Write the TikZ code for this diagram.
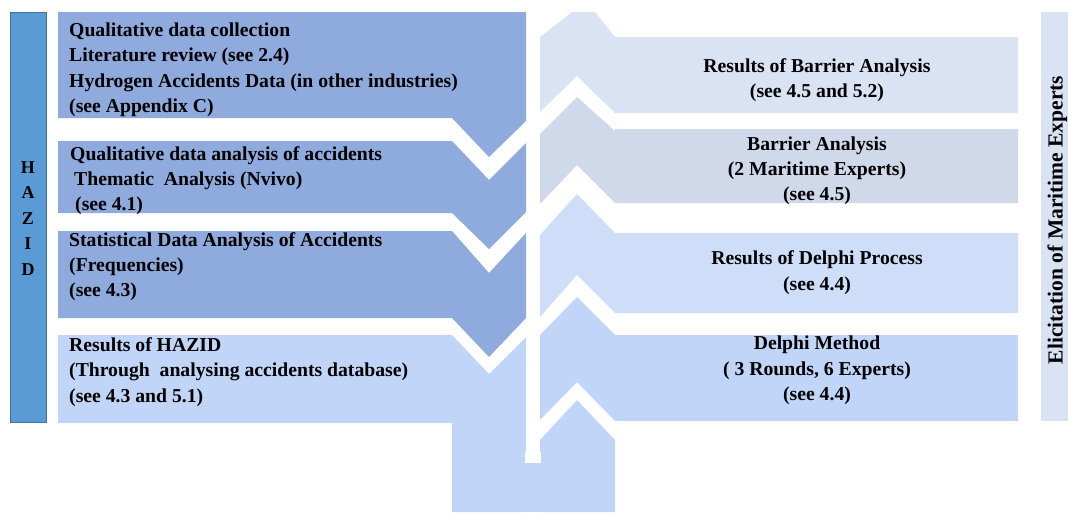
\documentclass[tikz,border=0pt]{standalone}
\usepackage{fontspec}
\setmainfont{Liberation Serif}
\definecolor{lmid}{HTML}{8FAADC}
\definecolor{llight}{HTML}{C1D5F8}
\definecolor{ra}{HTML}{DAE3F3}
\definecolor{rb}{HTML}{CFD9EA}
\definecolor{rc}{HTML}{CEDEF9}
\definecolor{rd}{HTML}{C1D5F8}
\definecolor{hz}{HTML}{5B9BD5}
\definecolor{hzline}{HTML}{41719C}
\begin{document}
\begin{tikzpicture}[x=1pt,y=-1pt,
  txt/.style={font=\bfseries\fontsize{19.7}{25}\selectfont, inner sep=0pt, text=black},
  ctxt/.style={txt, anchor=base},
  ltxt/.style={txt, anchor=base west}]
\useasboundingbox (0,0) rectangle (1068,512);
% left column shapes
\fill[lmid] (58,12) -- (526,12) -- (526,121) -- (489,157) -- (452,118) -- (58,118) -- cycle;
\fill[lmid] (58,141) -- (452,141) -- (489,180) -- (526,143) -- (526,212) -- (489,249) -- (452,213) -- (58,213) -- cycle;
\fill[lmid] (58,231) -- (452,231) -- (489,273) -- (526,233) -- (526,318) -- (489,357) -- (452,318) -- (58,318) -- cycle;
\fill[llight] (58,335) -- (452,335) -- (489,374) -- (526,337) -- (526,512) -- (452,512) -- (452,423) -- (58,423) -- cycle;
% right column shapes
\fill[ra] (540,37) -- (572,12) -- (595,12) -- (615,37) -- (1018,37) -- (1018,113) -- (615,113) -- (577,76) -- (540,112) -- cycle;
\fill[rb] (540,134) -- (577,97) -- (615,131) -- (615,129) -- (1018,129) -- (1018,203) -- (615,203) -- (577,165) -- (540,204) -- cycle;
\fill[rc] (540,235) -- (577,194) -- (615,233) -- (1018,233) -- (1018,313) -- (615,313) -- (577,275) -- (540,317) -- cycle;
\fill[rd] (540,335) -- (577,297) -- (615,335) -- (1018,335) -- (1018,421) -- (615,421) -- (577,382) -- (540,420) -- cycle;
\fill[llight] (540,440) -- (577,400) -- (615,440) -- (615,512) -- (540,512) -- cycle;
\fill[llight] (525,463) rectangle (541,512);
\fill[white] (525,452) rectangle (541,463);
% side bars
\filldraw[fill=hz, draw=hzline, line width=0.8pt] (10,12) rectangle (46,422);
\fill[ra] (1041,12) rectangle (1068,421);
% HAZID
\node[txt, font=\bfseries\fontsize{18}{25.6}\selectfont, align=center, anchor=center] (hazid) at (28,218.5) {H\\A\\Z\\I\\D};
\node[txt, font=\bfseries\fontsize{21.5}{25}\selectfont, rotate=90, anchor=base] (elic) at (1062.5,220) {Elicitation of Maritime Experts};
% left texts
\node[ltxt] (a1) at (69,36) {Qualitative data collection};
\node[ltxt] (a2) at (69,61) {Literature review (see 2.4)};
\node[ltxt] (a3) at (69,87) {Hydrogen Accidents Data (in other industries)};
\node[ltxt] (a4) at (69,112) {(see Appendix C)};
\node[ltxt] (b1) at (70,160) {Qualitative data analysis of accidents};
\node[ltxt] (b2) at (74,185) {Thematic~ Analysis (Nvivo)};
\node[ltxt] (b3) at (75,210) {(see 4.1)};
\node[ltxt] (c1) at (69,246) {Statistical Data Analysis of Accidents};
\node[ltxt] (c2) at (69,271) {(Frequencies)};
\node[ltxt] (c3) at (69,296) {(see 4.3)};
\node[ltxt] (d1) at (69,351) {Results of HAZID};
\node[ltxt] (d2) at (69,376) {(Through~ analysing accidents database)};
\node[ltxt] (d3) at (69,402) {(see 4.3 and 5.1)};
% right texts
\node[ctxt] (e1) at (817,72) {Results of Barrier Analysis};
\node[ctxt] (e2) at (817,97) {(see 4.5 and 5.2)};
\node[ctxt] (f1) at (817,150) {Barrier Analysis};
\node[ctxt] (f2) at (817,175) {(2 Maritime Experts)};
\node[ctxt] (f3) at (817,200) {(see 4.5)};
\node[ctxt] (g1) at (817,264) {Results of Delphi Process};
\node[ctxt] (g2) at (817,290) {(see 4.4)};
\node[ctxt] (h1) at (817,349) {Delphi Method};
\node[ctxt] (h2) at (817,375) {( 3 Rounds, 6 Experts)};
\node[ctxt] (h3) at (817,400) {(see 4.4)};
\end{tikzpicture}
\end{document}
